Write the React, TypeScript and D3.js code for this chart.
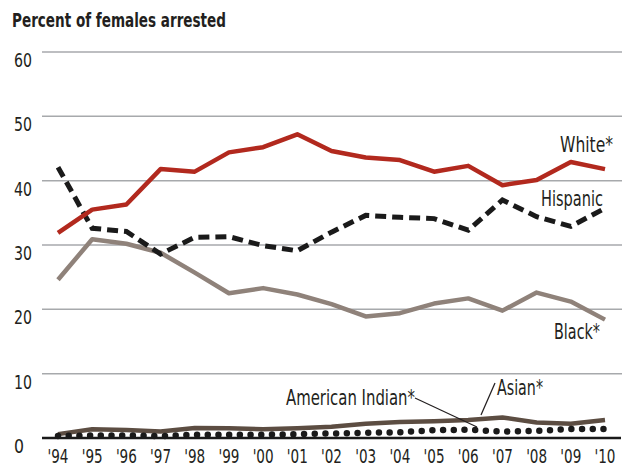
import React from "react";
import * as d3 from "d3";

const years = ["'94","'95","'96","'97","'98","'99","'00","'01","'02","'03","'04","'05","'06","'07","'08","'09","'10"];
const white = [31.9,35.5,36.3,41.8,41.4,44.4,45.2,47.2,44.6,43.6,43.2,41.4,42.3,39.3,40.1,42.9,41.8];
const hispanic = [42.1,32.6,32.1,28.6,31.2,31.3,29.9,29.1,32.0,34.6,34.3,34.1,32.3,37.0,34.4,32.9,35.7];
const black = [24.6,30.9,30.2,28.8,25.7,22.5,23.3,22.3,20.8,18.9,19.4,20.9,21.7,19.8,22.6,21.2,18.4];
const asian = [0.6,1.35,1.25,1.0,1.55,1.5,1.35,1.5,1.75,2.2,2.5,2.6,2.8,3.2,2.4,2.2,2.8];
const amInd = [0.3,0.4,0.4,0.3,0.5,0.5,0.5,0.6,0.7,0.8,0.9,1.2,1.3,1.0,1.1,1.4,1.4];
const yTicks = [0,10,20,30,40,50,60];

const W = 624, H = 468;
const FONT = "'Liberation Sans Narrow', 'DejaVu Sans Condensed', 'Roboto Condensed', sans-serif";
const INK = "#231f20";

export default function App() {
  const x = d3.scalePoint<string>().domain(years).range([58, 605]);
  const y = d3.scaleLinear().domain([0, 60]).range([438, 52]);
  const line = (vals: number[]) =>
    d3.line<number>().x((_, i) => x(years[i]) as number).y((d) => y(d))(vals) as string;
  const fit = { lengthAdjust: "spacingAndGlyphs" as const };

  return (
    <svg width={W} height={H} style={{ position: "absolute", left: 0, top: 0, background: "#fff" }} fontFamily={FONT}>
      <text x={12} y={27} fontSize={19} fontWeight="bold" fill={INK} textLength={214} {...fit}>Percent of females arrested</text>
      {yTicks.map((t) => (
        <g key={t}>
          {t > 0 && <line x1={42} x2={622} y1={y(t)} y2={y(t)} stroke="#a7a9ac" strokeWidth={1.5} />}
          <text x={14} y={y(t) + 15} fontSize={20} fill={INK} textLength={t === 0 ? 10 : 18} {...fit}>{t}</text>
        </g>
      ))}
      {years.map((yr) => (
        <text key={yr} x={(x(yr) as number) - 10.5} y={463} fontSize={19} fill={INK} textLength={21} {...fit}>{yr}</text>
      ))}
      <path d={line(asian)} fill="none" stroke="#5c4d42" strokeWidth={4.5} strokeLinejoin="round" />
      <path d={line(amInd)} fill="none" stroke="#1a1a1a" strokeWidth={6.5} strokeLinecap="round" strokeDasharray="0 10.7" />
      <line x1={42} x2={621} y1={y(0)} y2={y(0)} stroke="#1a1a1a" strokeWidth={2.5} />
      <path d={line(black)} fill="none" stroke="#8f827a" strokeWidth={4.5} strokeLinejoin="round" />
      <path d={line(hispanic)} fill="none" stroke="#1a1a1a" strokeWidth={5} strokeDasharray="11 6" />
      <path d={line(white)} fill="none" stroke="#b2291e" strokeWidth={4.5} strokeLinejoin="round" />
      <text x={560} y={152} fontSize={21} fill={INK} textLength={53} {...fit}>White*</text>
      <text x={541} y={206} fontSize={21} fill={INK} textLength={62} {...fit}>Hispanic</text>
      <text x={554} y={339} fontSize={21} fill={INK} textLength={46} {...fit}>Black*</text>
      <text x={286} y={405} fontSize={21} fill={INK} textLength={129} {...fit}>American Indian*</text>
      <line x1={415} y1={398} x2={477} y2={427} stroke={INK} strokeWidth={1.2} />
      <text x={497} y={395} fontSize={21} fill={INK} textLength={46} {...fit}>Asian*</text>
      <line x1={495} y1={383} x2={481} y2={415} stroke={INK} strokeWidth={1.2} />
    </svg>
  );
}
